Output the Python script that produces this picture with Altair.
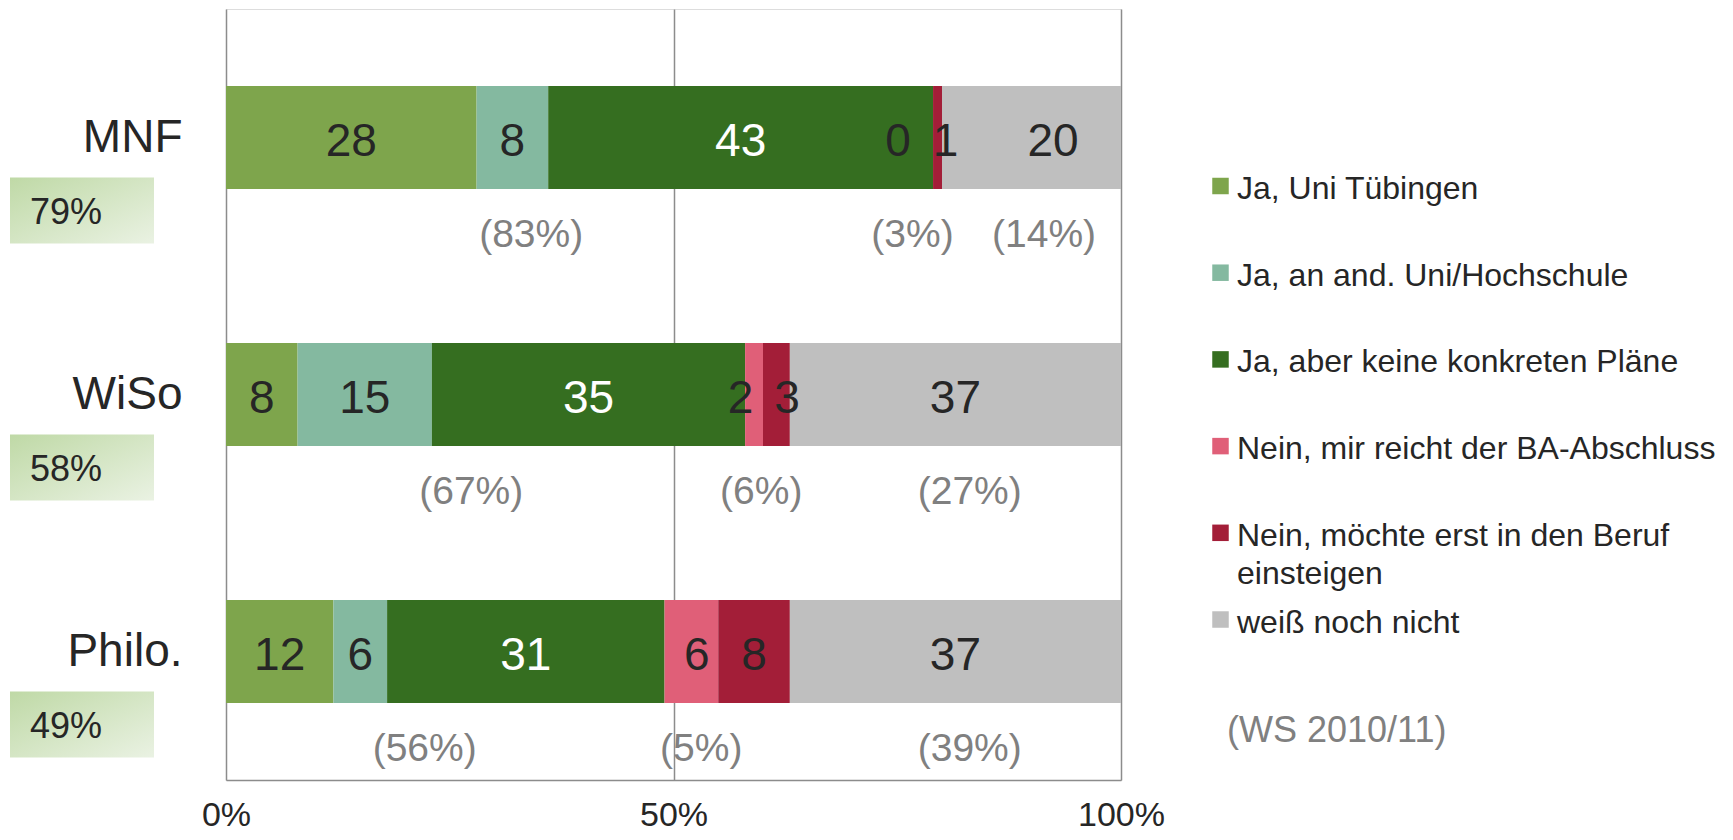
import altair as alt
import pandas as pd

# ---------------- data ----------------
rows = ["MNF", "WiSo", "Philo."]
categories = [
    "Ja, Uni Tübingen",
    "Ja, an and. Uni/Hochschule",
    "Ja, aber keine konkreten Pläne",
    "Nein, mir reicht der BA-Abschluss",
    "Nein, möchte erst in den Beruf einsteigen",
    "weiß noch nicht",
]
colors = ["#7ea54c", "#84b9a0", "#356e20", "#e05f78", "#a31e38", "#bfbfbf"]

values_mnf = [28, 8, 43, 0, 1, 20]
values_wiso = [8, 15, 35, 2, 3, 37]
values_philo = [12, 6, 31, 6, 8, 37]

# bracketed comparison values (ja / nein / weiß noch nicht)
compare_mnf = [83, 3, 14]
compare_wiso = [67, 6, 27]
compare_philo = [56, 5, 39]

groups = [0, 0, 0, 1, 1, 2]          # ja / nein / weiß noch nicht
note = "(WS 2010/11)"
x_ticks = [0, 50, 100]

# small label nudges (percentage points) to keep labels readable
label_nudge = {"MNF": [0, 0, 0, -3.9, 0.9, 2.4],
               "WiSo": [0, 0, 0, -1.5, 1.2, 0],
               "Philo.": [0, 0, 0, 0.6, 0, 0]}
note_nudge = {"MNF": [-5.4, -2.8, 1.4],
              "WiSo": [-1.6, -0.7, 1.6],
              "Philo.": [-2.3, -2.9, 1.6]}

# ---------------- tables ----------------
FONT = "Liberation Sans"
DARK = "#262626"
GREY_TXT = "#808080"
GRID = "#8c8c8c"

seg_recs, note_recs, row_recs = [], [], []
for r, vals, comp in zip(rows, [values_mnf, values_wiso, values_philo],
                         [compare_mnf, compare_wiso, compare_philo]):
    start = 0
    starts = []
    for i, (c, v) in enumerate(zip(categories, vals)):
        starts.append(start)
        seg_recs.append(dict(row=r, category=c, value=v, start=start, end=start + v,
                             lx=start + v / 2 + label_nudge[r][i],
                             tcolor="white" if i == 2 else DARK))
        start += v
    for g in range(3):
        idx = [i for i, gg in enumerate(groups) if gg == g]
        gs = starts[idx[0]]
        ge = gs + sum(vals[i] for i in idx)
        note_recs.append(dict(row=r, nx=(gs + ge) / 2 + note_nudge[r][g], ntext=f"({comp[g]}%)"))
    yes = sum(v for v, gg in zip(vals, groups) if gg == 0)
    row_recs.append(dict(row=r, ylabel=f"{yes}%"))

seg_df = pd.DataFrame(seg_recs)
note_df = pd.DataFrame(note_recs)
row_df = pd.DataFrame(row_recs)
leg_df = pd.DataFrame(dict(category=categories,
                           idx=list(range(len(categories))),
                           label=[c.replace("Beruf einsteigen", "Beruf\neinsteigen") for c in categories]))

# ---------------- encodings ----------------
y_enc = alt.Y("row:N", sort=rows, title=None,
              scale=alt.Scale(paddingInner=0.6, paddingOuter=0.3),
              axis=alt.Axis(labelFont=FONT, labelFontSize=46, labelColor=DARK, labelPadding=44,
                            ticks=False, domain=False, grid=False))
x_scale = alt.Scale(domain=[0, 100], nice=False)
x_axis = alt.Axis(values=x_ticks, labelExpr="datum.value + '%'", labelFont=FONT, labelFontSize=34,
                  labelColor=DARK, labelPadding=18, labelFlush=False, ticks=False, domain=True,
                  domainColor=GRID, domainWidth=1.5, grid=True, gridColor=GRID, gridWidth=1.5,
                  title=None)
color_enc = alt.Color("category:N", scale=alt.Scale(domain=categories, range=colors), legend=None)

bars = alt.Chart(seg_df).mark_bar().encode(
    y=y_enc, x=alt.X("start:Q", scale=x_scale, axis=x_axis), x2="end:Q", color=color_enc)

seg_labels = alt.Chart(seg_df).mark_text(font=FONT, fontSize=46, dy=4).encode(
    y=y_enc, x=alt.X("lx:Q", scale=x_scale, axis=x_axis), text="value:Q",
    color=alt.Color("tcolor:N", scale=None))

notes = alt.Chart(note_df).mark_text(font=FONT, fontSize=39, color=GREY_TXT, dy=97).encode(
    y=y_enc, x=alt.X("nx:Q", scale=x_scale, axis=x_axis), text="ntext:N")

grad = alt.Gradient(gradient="linear",
                    stops=[alt.GradientStop(color="#bfd9a6", offset=0),
                           alt.GradientStop(color="#eaf2e3", offset=1)],
                    x1=0, y1=0, x2=1, y2=1)
boxes = alt.Chart(row_df).mark_bar(height=66, yOffset=73, color=grad).encode(
    y=y_enc, x=alt.value(-216), x2=alt.value(-72))
box_text = alt.Chart(row_df).mark_text(font=FONT, fontSize=36, color=DARK, align="left", dy=75).encode(
    y=y_enc, x=alt.value(-196), text="ylabel:N")

# legend drawn as marks: one row per category, evenly spaced
ly = alt.Y("idx:Q", axis=None,
           scale=alt.Scale(domain=[-2.0415, 6.851], reverse=True, nice=False, zero=False))
leg_sq = alt.Chart(leg_df).mark_square(size=272, opacity=1, filled=True).encode(
    y=ly, x=alt.value(994.5), color=color_enc)
leg_txt = alt.Chart(leg_df).mark_text(font=FONT, fontSize=32, color=DARK, align="left",
                                      baseline="top", dy=-12, lineBreak="\n", lineHeight=38).encode(
    y=ly, x=alt.value(1011), text="label:N")
ws = alt.Chart(leg_df).transform_filter(alt.datum.idx == len(categories) - 1).mark_text(
    font=FONT, fontSize=36, color=GREY_TXT, align="left", dy=111, text=note).encode(
    y=ly, x=alt.value(1001))

main = alt.layer(bars, boxes, box_text, seg_labels, notes)
legend = alt.layer(leg_sq, leg_txt, ws)

chart = alt.layer(main, legend).resolve_scale(y="independent").properties(
    width=895, height=771,
    padding={"left": 218, "top": 1, "right": 595, "bottom": 52},
    autosize=alt.AutoSizeParams(type="none"),
).configure_view(stroke=None).configure(background="white")

chart.save("out.html", embed_options={"renderer": "svg", "actions": False})
